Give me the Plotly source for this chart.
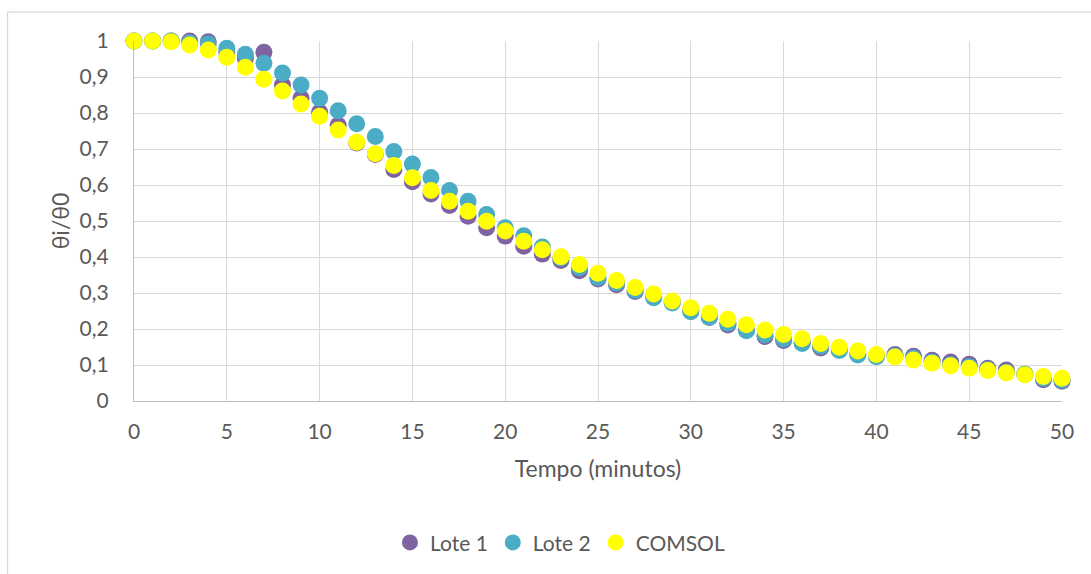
import plotly.graph_objects as go

# Tempo em minutos
tempo = list(range(0, 51))

# Razão adimensional θi/θ0 por série
lote_1 = [1.000, 1.000, 1.000, 1.000, 0.998, 0.968, 0.952, 0.969, 0.878, 0.841,
          0.802, 0.766, 0.717, 0.685, 0.643, 0.609, 0.575, 0.543, 0.513, 0.481,
          0.458, 0.430, 0.408, 0.390, 0.362, 0.339, 0.323, 0.304, 0.290, 0.275,
          0.252, 0.232, 0.211, 0.198, 0.179, 0.168, 0.163, 0.147, 0.142, 0.131,
          0.126, 0.129, 0.124, 0.113, 0.108, 0.102, 0.091, 0.086, 0.074, 0.059,
          0.055]
lote_2 = [1.000, 1.000, 1.000, 0.995, 0.992, 0.980, 0.963, 0.938, 0.911, 0.878,
          0.841, 0.806, 0.770, 0.735, 0.693, 0.658, 0.621, 0.585, 0.555, 0.518,
          0.481, 0.459, 0.428, 0.397, 0.370, 0.343, 0.328, 0.307, 0.287, 0.272,
          0.248, 0.233, 0.216, 0.195, 0.184, 0.172, 0.160, 0.152, 0.140, 0.128,
          0.123, 0.125, 0.119, 0.108, 0.101, 0.095, 0.087, 0.080, 0.074, 0.063,
          0.058]
comsol = [1.000, 1.000, 0.998, 0.989, 0.975, 0.955, 0.927, 0.894, 0.861, 0.825,
          0.791, 0.753, 0.719, 0.687, 0.654, 0.620, 0.585, 0.555, 0.527, 0.499,
          0.472, 0.444, 0.420, 0.401, 0.379, 0.355, 0.335, 0.315, 0.297, 0.278,
          0.259, 0.244, 0.227, 0.212, 0.197, 0.185, 0.173, 0.160, 0.149, 0.139,
          0.129, 0.122, 0.114, 0.105, 0.098, 0.091, 0.085, 0.078, 0.073, 0.068,
          0.063]

series = [
    ("Lote 1", lote_1, "#8064A2"),
    ("Lote 2", lote_2, "#4BACC6"),
    ("COMSOL", comsol, "#FFFF00"),
]

FONT = "Lato"
TEXT = "#595959"
GRID = "#D9D9D9"

fig = go.Figure()
for name, values, color in series:
    fig.add_trace(go.Scatter(
        x=tempo, y=values, name=name, mode="markers",
        marker=dict(size=17, color=color, line=dict(width=0)),
        cliponaxis=False,
    ))

fig.update_layout(
    width=1091, height=574,
    margin=dict(l=134, r=29, t=41, b=172),
    paper_bgcolor="white", plot_bgcolor="white",
    separators=", ",
    font=dict(family=FONT, size=21, color=TEXT),
    showlegend=True,
    legend=dict(
        orientation="h", x=0.459, xanchor="center", y=-0.39, yanchor="middle",
        font=dict(family=FONT, size=21, color=TEXT),
        itemwidth=30, tracegroupgap=0,
    ),
    shapes=[dict(
        type="rect", xref="paper", yref="paper",
        x0=-0.1363, x1=1.2, y0=-1.0, y1=1.0803,
        line=dict(color=GRID, width=1.3), fillcolor="rgba(0,0,0,0)",
        layer="below",
    )],
)

fig.update_xaxes(
    range=[0, 50], dtick=5, tick0=0,
    showgrid=True, gridcolor=GRID, gridwidth=1.3,
    showline=True, linecolor="#BFBFBF", linewidth=1.3,
    zeroline=False, ticks="", ticklabelstandoff=12,
    tickfont=dict(family=FONT, size=21, color=TEXT),
    title=dict(text="Tempo (minutos)", standoff=18,
               font=dict(family=FONT, size=23, color=TEXT)),
)
fig.update_yaxes(
    range=[0, 1], dtick=0.1, tick0=0,
    showgrid=True, gridcolor=GRID, gridwidth=1.3,
    showline=True, linecolor="#BFBFBF", linewidth=1.3,
    zeroline=False, ticks="", ticklabelstandoff=20,
    tickfont=dict(family=FONT, size=21, color=TEXT),
    title=dict(text="θi/θ0", standoff=3,
               font=dict(family=FONT, size=23, color=TEXT)),
)

fig.write_html("out.html")
